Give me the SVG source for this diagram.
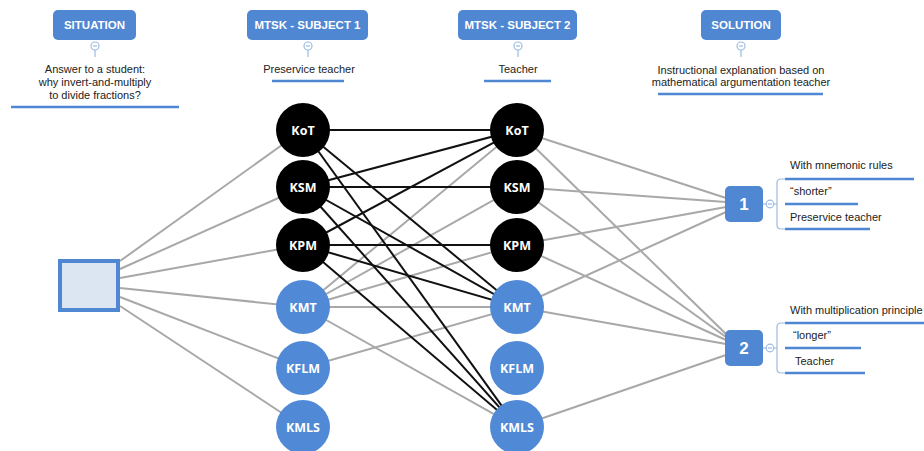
<svg xmlns="http://www.w3.org/2000/svg" width="924" height="451" viewBox="0 0 924 451">
<style>
.hdr{fill:#4f87d3}
.hdrt{fill:#fff;font-family:"Liberation Sans",Arial,sans-serif;font-weight:bold;font-size:11.5px;text-anchor:middle}
.lbl{fill:#222;font-family:"Liberation Sans",Arial,sans-serif;font-size:11px}
.ctr{text-anchor:middle}
.ul{stroke:#4f87d3;stroke-width:2.5;fill:none}
.tog{fill:#fff;stroke:#9bbbe3;stroke-width:1.2}
.togl{stroke:#9bbbe3;stroke-width:1.2}
.g{stroke:#a8a8a8;stroke-width:2;fill:none}
.b{stroke:#111;stroke-width:2;fill:none}
.blk{fill:#000}
.blu{fill:#5089d6}
.ct{fill:#fff;font-family:"Open Sans","DejaVu Sans",sans-serif;font-weight:bold;font-size:12.5px;text-anchor:middle}
.num{fill:#fff;font-family:"Liberation Sans",Arial,sans-serif;font-weight:bold;font-size:17px;text-anchor:middle}
.br{stroke:#9bbbe3;stroke-width:1.2;fill:none}
</style>

<!-- headers -->
<g id="h-situation">
<rect class="hdr" x="53" y="10" width="83" height="30" rx="5"/>
<text class="hdrt" x="94.5" y="29">SITUATION</text>
<line class="togl" x1="95" y1="50" x2="95" y2="57"/>
<circle class="tog" cx="95" cy="46" r="4"/><line class="togl" x1="93" y1="46" x2="97" y2="46"/>
<text class="lbl ctr" x="95" y="73">Answer to a student:</text>
<text class="lbl ctr" x="95" y="86">why invert-and-multiply</text>
<text class="lbl ctr" x="95" y="99">to divide fractions?</text>
<line class="ul" x1="11" y1="107" x2="179" y2="107"/>
</g>
<g id="h-subject1">
<rect class="hdr" x="247" y="10" width="121" height="30" rx="5"/>
<text class="hdrt" x="307.5" y="29">MTSK - SUBJECT 1</text>
<line class="togl" x1="308" y1="50" x2="308" y2="57"/>
<circle class="tog" cx="308" cy="46" r="4"/><line class="togl" x1="306" y1="46" x2="310" y2="46"/>
<text class="lbl ctr" x="309" y="73">Preservice teacher</text>
<line class="ul" x1="272" y1="81" x2="344" y2="81"/>
</g>
<g id="h-subject2">
<rect class="hdr" x="458" y="10" width="119" height="30" rx="5"/>
<text class="hdrt" x="517.5" y="29">MTSK - SUBJECT 2</text>
<line class="togl" x1="518" y1="50" x2="518" y2="57"/>
<circle class="tog" cx="518" cy="46" r="4"/><line class="togl" x1="516" y1="46" x2="520" y2="46"/>
<text class="lbl ctr" x="518" y="73">Teacher</text>
<line class="ul" x1="484" y1="81" x2="551" y2="81"/>
</g>
<g id="h-solution">
<rect class="hdr" x="701" y="10" width="80" height="30" rx="5"/>
<text class="hdrt" x="741" y="29">SOLUTION</text>
<line class="togl" x1="741" y1="50" x2="741" y2="57"/>
<circle class="tog" cx="741" cy="46" r="4"/><line class="togl" x1="739" y1="46" x2="743" y2="46"/>
<text class="lbl ctr" x="741" y="74">Instructional explanation based on</text>
<text class="lbl ctr" x="741" y="86">mathematical argumentation teacher</text>
<line class="ul" x1="658" y1="94" x2="823" y2="94"/>
</g>

<!-- connectors -->
<g id="connectors">
<!-- situation to subject 1 -->
<line class="g" x1="120" y1="261" x2="303" y2="130"/>
<line class="g" x1="120" y1="269" x2="303" y2="187"/>
<line class="g" x1="120" y1="278" x2="303" y2="245"/>
<line class="g" x1="120" y1="288" x2="303" y2="307"/>
<line class="g" x1="120" y1="297" x2="303" y2="368"/>
<line class="g" x1="120" y1="306" x2="303" y2="427"/>
<!-- gray subject1 to subject2 -->
<line class="g" x1="303" y1="307" x2="517" y2="130"/>
<line class="g" x1="303" y1="307" x2="517" y2="187"/>
<line class="g" x1="303" y1="307" x2="517" y2="245"/>
<line class="g" x1="303" y1="307" x2="517" y2="307"/>
<line class="g" x1="303" y1="307" x2="517" y2="427"/>
<line class="g" x1="303" y1="368" x2="517" y2="307"/>
<!-- black subject1 to subject2 -->
<line class="b" x1="303" y1="130" x2="517" y2="130"/>
<line class="b" x1="303" y1="130" x2="517" y2="307"/>
<line class="b" x1="303" y1="130" x2="517" y2="427"/>
<line class="b" x1="303" y1="187" x2="517" y2="130"/>
<line class="b" x1="303" y1="187" x2="517" y2="187"/>
<line class="b" x1="303" y1="187" x2="517" y2="307"/>
<line class="b" x1="303" y1="187" x2="517" y2="427"/>
<line class="b" x1="303" y1="245" x2="517" y2="130"/>
<line class="b" x1="303" y1="245" x2="517" y2="245"/>
<line class="b" x1="303" y1="245" x2="517" y2="307"/>
<line class="b" x1="303" y1="245" x2="517" y2="427"/>
<!-- subject2 to solution 1 -->
<line class="g" x1="517" y1="130" x2="726" y2="198"/>
<line class="g" x1="517" y1="187" x2="726" y2="202"/>
<line class="g" x1="517" y1="245" x2="726" y2="207"/>
<line class="g" x1="517" y1="307" x2="726" y2="212"/>
<!-- subject2 to solution 2 -->
<line class="g" x1="517" y1="130" x2="726" y2="334"/>
<line class="g" x1="517" y1="187" x2="726" y2="337"/>
<line class="g" x1="517" y1="245" x2="726" y2="340"/>
<line class="g" x1="517" y1="307" x2="726" y2="344"/>
<line class="g" x1="517" y1="427" x2="726" y2="355"/>
</g>

<!-- situation box -->
<g id="situation-box">
<rect x="60" y="261" width="58" height="49" fill="#dce6f2" stroke="#4f87d3" stroke-width="4"/>
</g>

<!-- subject 1 nodes -->
<g id="s1-KoT"><circle class="blk" cx="303" cy="130" r="27"/><text class="ct" x="303" y="135">KoT</text></g>
<g id="s1-KSM"><circle class="blk" cx="303" cy="187" r="27"/><text class="ct" x="303" y="192">KSM</text></g>
<g id="s1-KPM"><circle class="blk" cx="303" cy="245" r="27"/><text class="ct" x="303" y="250">KPM</text></g>
<g id="s1-KMT"><circle class="blu" cx="303" cy="307" r="27"/><text class="ct" x="303" y="312">KMT</text></g>
<g id="s1-KFLM"><circle class="blu" cx="303" cy="368" r="27"/><text class="ct" x="303" y="373">KFLM</text></g>
<g id="s1-KMLS"><circle class="blu" cx="303" cy="427" r="27"/><text class="ct" x="303" y="432">KMLS</text></g>

<!-- subject 2 nodes -->
<g id="s2-KoT"><circle class="blk" cx="517" cy="130" r="27"/><text class="ct" x="517" y="135">KoT</text></g>
<g id="s2-KSM"><circle class="blk" cx="517" cy="187" r="27"/><text class="ct" x="517" y="192">KSM</text></g>
<g id="s2-KPM"><circle class="blk" cx="517" cy="245" r="27"/><text class="ct" x="517" y="250">KPM</text></g>
<g id="s2-KMT"><circle class="blu" cx="517" cy="307" r="27"/><text class="ct" x="517" y="312">KMT</text></g>
<g id="s2-KFLM"><circle class="blu" cx="517" cy="368" r="27"/><text class="ct" x="517" y="373">KFLM</text></g>
<g id="s2-KMLS"><circle class="blu" cx="517" cy="427" r="27"/><text class="ct" x="517" y="432">KMLS</text></g>

<!-- solution 1 -->
<g id="sol-1">
<rect class="hdr" x="725" y="186" width="38" height="36" rx="5"/>
<text class="num" x="744" y="210">1</text>
<line class="togl" x1="763" y1="204" x2="766" y2="204"/>
<circle class="tog" cx="770" cy="204" r="3.8"/><line class="togl" x1="768" y1="204" x2="772" y2="204"/>
<path class="br" d="M785 179 H781 Q777 179 777 183 V225 Q777 229 781 229 H785 M774 204 H777"/>
<text class="lbl" x="790" y="169">With mnemonic rules</text>
<line class="ul" x1="785" y1="179" x2="914" y2="179"/>
<text class="lbl" x="790" y="195">“shorter”</text>
<line class="ul" x1="785" y1="204" x2="858" y2="204"/>
<text class="lbl" x="790" y="221">Preservice teacher</text>
<line class="ul" x1="785" y1="229" x2="870" y2="229"/>
</g>

<!-- solution 2 -->
<g id="sol-2">
<rect class="hdr" x="725" y="330" width="38" height="36" rx="5"/>
<text class="num" x="744" y="354">2</text>
<line class="togl" x1="763" y1="348" x2="766" y2="348"/>
<circle class="tog" cx="770" cy="348" r="3.8"/><line class="togl" x1="768" y1="348" x2="772" y2="348"/>
<path class="br" d="M785 323 H781 Q777 323 777 327 V369 Q777 373 781 373 H785 M774 348 H777"/>
<text class="lbl" x="790" y="314">With multiplication principle</text>
<line class="ul" x1="785" y1="323" x2="924" y2="323"/>
<text class="lbl" x="793" y="339">“longer”</text>
<line class="ul" x1="785" y1="348" x2="861" y2="348"/>
<text class="lbl" x="795" y="365">Teacher</text>
<line class="ul" x1="785" y1="373" x2="865" y2="373"/>
</g>
</svg>
